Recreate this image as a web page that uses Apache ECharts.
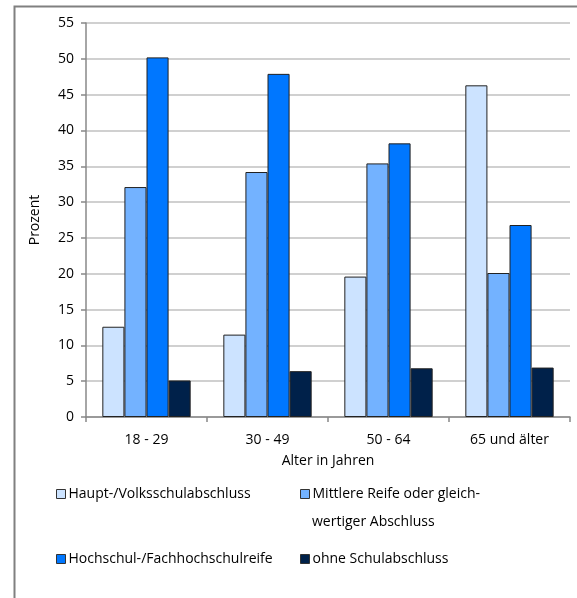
<!DOCTYPE html>
<html>
<head>
<meta charset="utf-8">
<script src="https://cdn.jsdelivr.net/npm/echarts@6/dist/echarts.min.js"></script>
<style>
  html, body { margin: 0; padding: 0; background: #fff; }
  #chart { width: 577px; height: 598px; }
</style>
</head>
<body>
<div id="chart"></div>
<script>
// Age groups on the x axis
const categories = ['18 - 29', '30 - 49', '50 - 64', '65 und älter'];

// Share (%) of each school-leaving qualification per age group
const hauptVolks = [12.6, 11.5, 19.6, 46.3];
const mittlereReife = [32.1, 34.2, 35.4, 20.1];
const hochschulreife = [50.2, 47.9, 38.2, 26.8];
const ohneAbschluss = [5.1, 6.4, 6.8, 6.9];

const seriesNames = [
  'Haupt-/Volksschulabschluss',
  'Mittlere Reife oder gleichwertiger Abschluss',
  'Hochschul-/Fachhochschulreife',
  'ohne Schulabschluss'
];
// First legend line for each series; the long one wraps onto a second line
const legendLines = [
  'Haupt-/Volksschulabschluss',
  'Mittlere Reife oder gleich-',
  'Hochschul-/Fachhochschulreife',
  'ohne Schulabschluss'
];
const legendWrap = 'wertiger Abschluss';

const seriesColors = ['#cce3ff', '#73b2ff', '#0077ff', '#00214a'];
const seriesData = [hauptVolks, mittlereReife, hochschulreife, ohneAbschluss];

const FONT = '"Open Sans", sans-serif';

function legendAt(idx, left, top) {
  return {
    data: [seriesNames[idx]],
    formatter: () => legendLines[idx],
    left: left,
    top: top,
    orient: 'vertical',
    padding: 0,
    itemWidth: 9,
    itemHeight: 9,
    itemGap: 0,
    icon: 'rect',
    selectedMode: false,
    itemStyle: { borderColor: '#333', borderWidth: 1 },
    textStyle: { fontFamily: FONT, fontSize: 14, color: '#000', padding: [0, 0, 0, -2] }
  };
}

const chart = echarts.init(document.getElementById('chart'), null, { renderer: 'canvas' });

chart.setOption({
  animation: false,
  backgroundColor: '#fff',
  graphic: [
    {
      type: 'rect',
      shape: { x: 14.5, y: 6.5, width: 600, height: 620 },
      style: { fill: 'none', stroke: '#808080', lineWidth: 2 },
      silent: true
    },
    {
      type: 'text',
      left: 312,
      top: 515,
      style: { text: legendWrap, font: '14px ' + FONT, fill: '#000' },
      silent: true
    }
  ],
  grid: { left: 86, right: 7, top: 23, bottom: 181 },
  legend: [
    legendAt(0, 56, 487),
    legendAt(1, 300, 487),
    legendAt(2, 56, 552),
    legendAt(3, 300, 552)
  ],
  xAxis: {
    type: 'category',
    data: categories,
    name: 'Alter in Jahren',
    nameLocation: 'middle',
    nameGap: 37,
    nameTextStyle: { fontFamily: FONT, fontSize: 14, color: '#000' },
    axisLine: { lineStyle: { color: '#888', width: 1.5 } },
    axisTick: { show: true, length: 5, lineStyle: { color: '#888', width: 1.5 } },
    axisLabel: { fontFamily: FONT, fontSize: 14, color: '#000', margin: 16 }
  },
  yAxis: {
    type: 'value',
    min: 0,
    max: 55,
    interval: 5,
    name: 'Prozent',
    nameLocation: 'middle',
    nameGap: 44,
    nameTextStyle: { fontFamily: FONT, fontSize: 14, color: '#000' },
    axisLine: { show: true, lineStyle: { color: '#888', width: 1.5 } },
    axisTick: { show: true, length: 5, lineStyle: { color: '#888', width: 1.5 } },
    axisLabel: { fontFamily: FONT, fontSize: 14, color: '#000', margin: 12 },
    splitLine: { show: true, lineStyle: { color: '#c0c0c0', width: 1.5 } }
  },
  series: seriesNames.map((name, i) => ({
    name: name,
    type: 'bar',
    data: seriesData[i],
    barGap: '0%',
    barCategoryGap: '27%',
    itemStyle: { color: seriesColors[i], borderColor: '#222', borderWidth: 1 }
  }))
});
</script>
</body>
</html>
